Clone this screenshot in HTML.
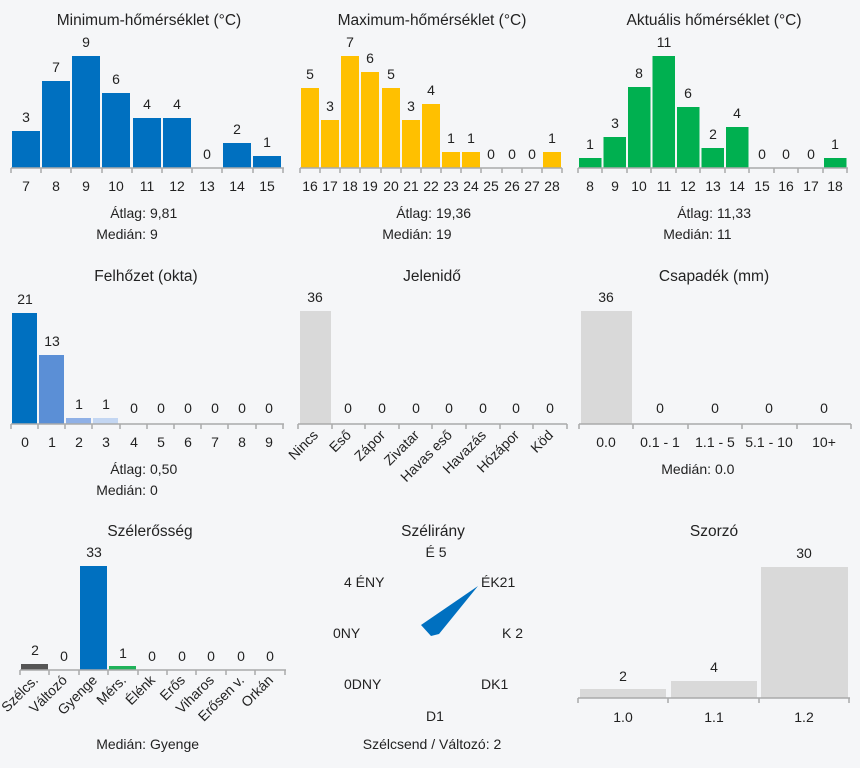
<!DOCTYPE html>
<html><head><meta charset="utf-8"><style>
html,body{margin:0;padding:0;background:#f5f6f8}
svg{display:block}
text{font-family:"Liberation Sans",sans-serif;font-size:14px;fill:#222}
.t{font-size:15.5px}
.ax{stroke:#aaa;stroke-width:1.5;fill:none}
</style></head><body>
<svg width="860" height="768" viewBox="0 0 860 768">
<rect width="860" height="768" fill="#f5f6f8"/>
<!-- Panel 1 -->
<text class="t" x="149" y="25" text-anchor="middle">Minimum-hőmérséklet (°C)</text>
<g fill="#0070c0">
<rect x="12" y="131" width="28" height="37"/><rect x="42" y="81" width="28" height="87"/><rect x="72" y="56" width="28" height="112"/><rect x="102" y="93" width="28" height="75"/><rect x="133" y="118" width="28" height="50"/><rect x="163" y="118" width="28" height="50"/><rect x="223" y="143" width="28" height="25"/><rect x="253" y="156" width="28" height="12"/>
</g>
<path class="ax" d="M11 168H284M11 168v5M41 168v5M71 168v5M102 168v5M132 168v5M162 168v5M192 168v5M222 168v5M253 168v5M283 168v5"/>
<g text-anchor="middle">
<text x="26" y="122">3</text><text x="56" y="72">7</text><text x="86" y="47">9</text><text x="116" y="84">6</text><text x="147" y="109">4</text><text x="177" y="109">4</text><text x="207" y="159">0</text><text x="237" y="134">2</text><text x="267" y="147">1</text>
<text x="26" y="191">7</text><text x="56" y="191">8</text><text x="86" y="191">9</text><text x="116" y="191">10</text><text x="147" y="191">11</text><text x="177" y="191">12</text><text x="207" y="191">13</text><text x="237" y="191">14</text><text x="267" y="191">15</text>
</g>
<text x="146" y="218" text-anchor="end">Átlag:</text><text x="150" y="218">9,81</text>
<text x="146" y="239" text-anchor="end">Medián:</text><text x="150" y="239">9</text>

<!-- Panel 2 -->
<text class="t" x="432" y="25" text-anchor="middle">Maximum-hőmérséklet (°C)</text>
<g fill="#ffc000">
<rect x="301" y="88" width="18" height="80"/><rect x="321" y="120" width="18" height="48"/><rect x="341" y="56" width="18" height="112"/><rect x="361" y="72" width="18" height="96"/><rect x="382" y="88" width="18" height="80"/><rect x="402" y="120" width="18" height="48"/><rect x="422" y="104" width="18" height="64"/><rect x="442" y="152" width="18" height="16"/><rect x="462" y="152" width="18" height="16"/><rect x="543" y="152" width="18" height="16"/>
</g>
<path class="ax" d="M300 168H562M300 168v5M320 168v5M340 168v5M360 168v5M381 168v5M401 168v5M421 168v5M441 168v5M461 168v5M481 168v5M502 168v5M522 168v5M542 168v5M562 168v5"/>
<g text-anchor="middle">
<text x="310" y="79">5</text><text x="330" y="111">3</text><text x="350" y="47">7</text><text x="370" y="63">6</text><text x="391" y="79">5</text><text x="411" y="111">3</text><text x="431" y="95">4</text><text x="451" y="143">1</text><text x="471" y="143">1</text><text x="491" y="159">0</text><text x="512" y="159">0</text><text x="532" y="159">0</text><text x="552" y="143">1</text>
<text x="310" y="191">16</text><text x="330" y="191">17</text><text x="350" y="191">18</text><text x="370" y="191">19</text><text x="391" y="191">20</text><text x="411" y="191">21</text><text x="431" y="191">22</text><text x="451" y="191">23</text><text x="471" y="191">24</text><text x="491" y="191">25</text><text x="512" y="191">26</text><text x="532" y="191">27</text><text x="552" y="191">28</text>
</g>
<text x="432" y="218" text-anchor="end">Átlag:</text><text x="436" y="218">19,36</text>
<text x="432" y="239" text-anchor="end">Medián:</text><text x="436" y="239">19</text>

<!-- Panel 3 -->
<text class="t" x="714" y="25" text-anchor="middle">Aktuális hőmérséklet (°C)</text>
<g fill="#00b050">
<rect x="579" y="158" width="22.5" height="10"/><rect x="603.5" y="137" width="22.5" height="31"/><rect x="628" y="87" width="22.5" height="81"/><rect x="652.5" y="56" width="22.5" height="112"/><rect x="677" y="107" width="22.5" height="61"/><rect x="701.5" y="148" width="22.5" height="20"/><rect x="726" y="127" width="22.5" height="41"/><rect x="824" y="158" width="22.5" height="10"/>
</g>
<path class="ax" d="M578 168H848M578 168v5M602 168v5M627 168v5M651 168v5M676 168v5M700 168v5M725 168v5M749 168v5M774 168v5M798 168v5M823 168v5M847 168v5"/>
<g text-anchor="middle">
<text x="590" y="149">1</text><text x="615" y="128">3</text><text x="639" y="78">8</text><text x="664" y="47">11</text><text x="688" y="98">6</text><text x="713" y="139">2</text><text x="737" y="118">4</text><text x="762" y="159">0</text><text x="786" y="159">0</text><text x="811" y="159">0</text><text x="835" y="149">1</text>
<text x="590" y="191">8</text><text x="615" y="191">9</text><text x="639" y="191">10</text><text x="664" y="191">11</text><text x="688" y="191">12</text><text x="713" y="191">13</text><text x="737" y="191">14</text><text x="762" y="191">15</text><text x="786" y="191">16</text><text x="811" y="191">17</text><text x="835" y="191">18</text>
</g>
<text x="713" y="218" text-anchor="end">Átlag:</text><text x="717" y="218">11,33</text>
<text x="713" y="239" text-anchor="end">Medián:</text><text x="717" y="239">11</text>

<!-- Row 2: Felhőzet -->
<text class="t" x="146" y="281" text-anchor="middle">Felhőzet (okta)</text>
<rect x="12" y="313" width="25" height="111" fill="#0070c0"/>
<rect x="39" y="355" width="25" height="69" fill="#5b8fd6"/>
<rect x="66" y="418" width="25" height="6" fill="#8fb0e6"/>
<rect x="93" y="418" width="25" height="6" fill="#c3d6f2"/>
<path class="ax" d="M11 424H284M11 424v5M38 424v5M65 424v5M92 424v5M120 424v5M147 424v5M174 424v5M201 424v5M228 424v5M256 424v5M283 424v5"/>
<g text-anchor="middle">
<text x="25" y="304">21</text><text x="52" y="346">13</text><text x="79" y="409">1</text><text x="106" y="409">1</text><text x="134" y="413">0</text><text x="161" y="413">0</text><text x="188" y="413">0</text><text x="215" y="413">0</text><text x="242" y="413">0</text><text x="269" y="413">0</text>
<text x="25" y="447">0</text><text x="52" y="447">1</text><text x="79" y="447">2</text><text x="106" y="447">3</text><text x="134" y="447">4</text><text x="161" y="447">5</text><text x="188" y="447">6</text><text x="215" y="447">7</text><text x="242" y="447">8</text><text x="269" y="447">9</text>
</g>
<text x="146" y="474" text-anchor="end">Átlag:</text><text x="150" y="474">0,50</text>
<text x="146" y="495" text-anchor="end">Medián:</text><text x="150" y="495">0</text>

<!-- Jelenidő -->
<text class="t" x="432" y="281" text-anchor="middle">Jelenidő</text>
<rect x="300" y="311" width="31" height="113" fill="#d9d9d9"/>
<path class="ax" d="M298 424H567M298 424v5M332 424v5M365 424v5M399 424v5M432 424v5M466 424v5M500 424v5M533 424v5M567 424v5"/>
<g text-anchor="middle">
<text x="315" y="302">36</text><text x="348" y="413">0</text><text x="382" y="413">0</text><text x="416" y="413">0</text><text x="449" y="413">0</text><text x="483" y="413">0</text><text x="516" y="413">0</text><text x="550" y="413">0</text>
</g>
<g text-anchor="end">
<text transform="translate(319,436) rotate(-45)">Nincs</text>
<text transform="translate(352,436) rotate(-45)">Eső</text>
<text transform="translate(386,436) rotate(-45)">Zápor</text>
<text transform="translate(420,436) rotate(-45)">Zivatar</text>
<text transform="translate(453,436) rotate(-45)">Havas eső</text>
<text transform="translate(487,436) rotate(-45)">Havazás</text>
<text transform="translate(520,436) rotate(-45)">Hózápor</text>
<text transform="translate(554,436) rotate(-45)">Köd</text>
</g>

<!-- Csapadék -->
<text class="t" x="714" y="281" text-anchor="middle">Csapadék (mm)</text>
<rect x="581" y="311" width="51" height="113" fill="#d9d9d9"/>
<path class="ax" d="M579 424H851M579 424v5M633 424v5M688 424v5M742 424v5M797 424v5M851 424v5"/>
<g text-anchor="middle">
<text x="606" y="302">36</text><text x="660" y="413">0</text><text x="715" y="413">0</text><text x="769" y="413">0</text><text x="824" y="413">0</text>
<text x="606" y="447">0.0</text><text x="660" y="447">0.1 - 1</text><text x="715" y="447">1.1 - 5</text><text x="769" y="447">5.1 - 10</text><text x="824" y="447">10+</text>
</g>
<text x="711" y="474" text-anchor="end">Medián:</text><text x="715" y="474">0.0</text>

<!-- Szélerősség -->
<text class="t" x="150" y="536" text-anchor="middle">Szélerősség</text>
<rect x="21" y="664" width="27" height="6" fill="#555"/>
<rect x="80" y="566" width="27" height="104" fill="#0070c0"/>
<rect x="109" y="666" width="27" height="4" fill="#1fb25a"/>
<path class="ax" d="M20 670H286M20 670v5M49 670v5M79 670v5M108 670v5M138 670v5M167 670v5M196 670v5M226 670v5M255 670v5M285 670v5"/>
<g text-anchor="middle">
<text x="35" y="655">2</text><text x="64" y="661">0</text><text x="94" y="557">33</text><text x="123" y="658">1</text><text x="152" y="661">0</text><text x="182" y="661">0</text><text x="211" y="661">0</text><text x="241" y="661">0</text><text x="270" y="661">0</text>
</g>
<g text-anchor="end">
<text transform="translate(39,681) rotate(-45)">Szélcs.</text>
<text transform="translate(68,681) rotate(-45)">Változó</text>
<text transform="translate(98,681) rotate(-45)">Gyenge</text>
<text transform="translate(127,681) rotate(-45)">Mérs.</text>
<text transform="translate(156,681) rotate(-45)">Élénk</text>
<text transform="translate(186,681) rotate(-45)">Erős</text>
<text transform="translate(215,681) rotate(-45)">Viharos</text>
<text transform="translate(245,681) rotate(-45)">Erősen v.</text>
<text transform="translate(274,681) rotate(-45)">Orkán</text>
</g>
<text x="146" y="749" text-anchor="end">Medián:</text><text x="150" y="749">Gyenge</text>

<!-- Szélirány -->
<text class="t" x="433" y="536" text-anchor="middle">Szélirány</text>
<text x="436" y="557" text-anchor="middle">É 5</text>
<text x="344" y="587">4 ÉNY</text>
<text x="481" y="587">ÉK21</text>
<text x="333" y="638">0NY</text>
<text x="502" y="638">K 2</text>
<text x="344" y="689">0DNY</text>
<text x="481" y="689">DK1</text>
<text x="426" y="721">D1</text>
<polygon points="478,586 421,625 431,636 439,634" fill="#0070c0"/>
<text x="432" y="749" text-anchor="middle">Szélcsend / Változó: 2</text>

<!-- Szorzó -->
<text class="t" x="714" y="536" text-anchor="middle">Szorzó</text>
<rect x="580" y="689" width="86" height="9" fill="#d9d9d9"/>
<rect x="671" y="681" width="86" height="17" fill="#d9d9d9"/>
<rect x="761" y="567" width="87" height="131" fill="#d9d9d9"/>
<path class="ax" d="M578 698H850M578 698v5M668 698v5M759 698v5M849 698v5"/>
<g text-anchor="middle">
<text x="623" y="681">2</text><text x="714" y="672">4</text><text x="804" y="558">30</text>
<text x="623" y="722">1.0</text><text x="714" y="722">1.1</text><text x="804" y="722">1.2</text>
</g>
</svg>
</body></html>
